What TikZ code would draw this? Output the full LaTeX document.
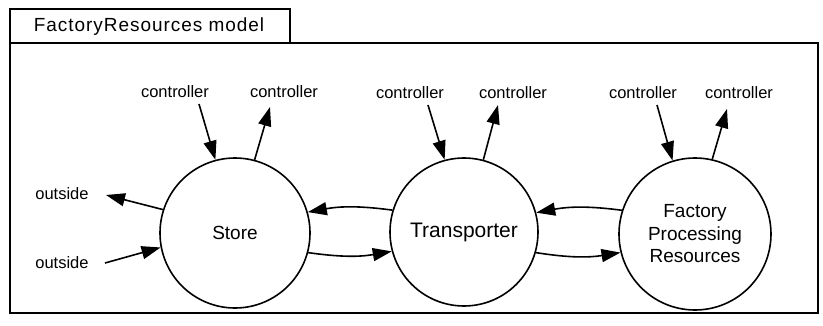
\documentclass[tikz,border=0pt]{standalone}
\usepackage{fontspec}
\setmainfont{Liberation Sans}
\usetikzlibrary{arrows.meta}
\begin{document}
\begin{tikzpicture}[x=1pt,y=-1pt,
  frame/.style={draw,line width=1.6pt},
  proc/.style={draw,circle,line width=1.6pt,minimum size=150pt,inner sep=0pt,
    align=center,font=\fontsize{19}{22.5}\selectfont},
  lbl/.style={font=\fontsize{16.5}{19}\selectfont},
  flow/.style={line width=1.6pt,-{Triangle[length=19pt,width=13pt]}}]
\useasboundingbox (0,0) rectangle (823,325);
% outer frame and title tab
\draw[frame] (10,43) rectangle (818,313);
\draw[frame] (10,9) rectangle (290,43);
\node[font=\fontsize{19}{22}\selectfont\addfontfeatures{LetterSpace=5}] (title) at (149,27) {FactoryResources model};
% processes
\node[proc] (store) at (235,233) {Store};
\node[proc,minimum size=148pt,font=\fontsize{21}{24}\selectfont] (trans) at (464,232) {Transporter};
\node[proc,minimum size=152pt] (fpr) at (695,234) {Factory\\Processing\\Resources};
% controller labels
\node[lbl] (sc1) at (175,92) {controller};
\node[lbl] (sc2) at (284,92) {controller};
\node[lbl] (tc1) at (410,93) {controller};
\node[lbl] (tc2) at (513,93) {controller};
\node[lbl] (fc1) at (643,93) {controller};
\node[lbl] (fc2) at (739,93) {controller};
\node[lbl] (out1) at (62,194) {outside};
\node[lbl] (out2) at (62,263) {outside};
% free ends of controller and outside flows
\coordinate (sa) at (199,104);
\coordinate (sb) at (270,107);
\coordinate (ta) at (428,105);
\coordinate (tb) at (498,105);
\coordinate (fa) at (657,105);
\coordinate (fb) at (727,109);
\coordinate (oa) at (106,195);
\coordinate (ob) at (105,263);
% controller flows
\draw[flow] (sa) -- (store.105);
\draw[flow] (store.75) -- (sb);
\draw[flow] (ta) -- (trans.105);
\draw[flow] (trans.75) -- (tb);
\draw[flow] (fa) -- (fpr.107);
\draw[flow] (fpr.77) -- (fb);
% outside flows
\draw[flow] (store.162) -- (oa);
\draw[flow] (ob) -- (store.191);
% flows between processes
\draw[flow] (trans.163) to[bend right=9] (store.16);
\draw[flow] (store.-15) to[bend right=9] (trans.195);
\draw[flow] (fpr.162) to[bend right=9] (trans.15);
\draw[flow] (trans.-16) to[bend right=9] (fpr.194);
\end{tikzpicture}
\end{document}
